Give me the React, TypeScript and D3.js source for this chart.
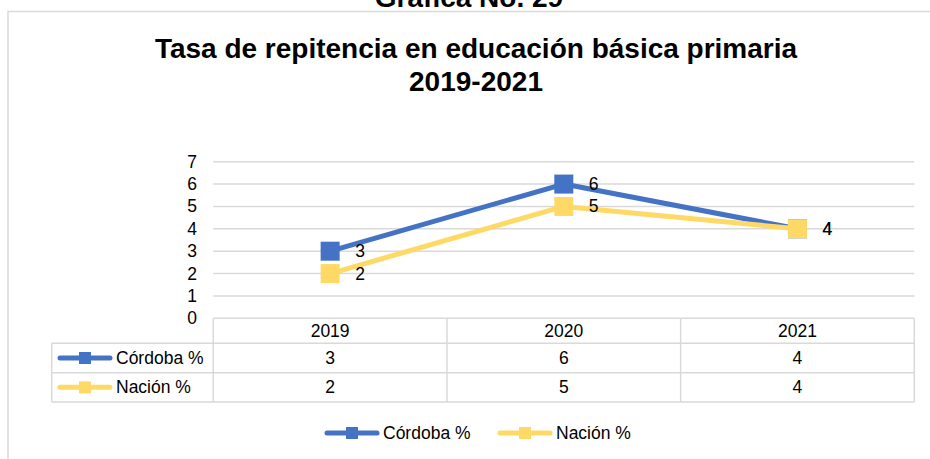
import React from "react";
import * as d3 from "d3";

const categories = ["2019", "2020", "2021"];
const cordoba = [3, 6, 4];
const nacion = [2, 5, 4];
const seriesNames = ["Córdoba %", "Nación %"];
const yTicks = [0, 1, 2, 3, 4, 5, 6, 7];

const BLUE = "#4472C4";
const GOLD = "#FFD966";
const GRID = "#D9D9D9";
const FONT = "'Liberation Sans', Arial, sans-serif";
const FS = 17.5;

export default function App() {
  const W = 930, H = 459;
  const left = 213.3, right = 914.3;
  const y0 = 318.3, y7 = 161.7;
  const x = d3.scaleBand<string>().domain(categories).range([left, right]);
  const y = d3.scaleLinear().domain([0, 7]).range([y0, y7]);
  const cx = (c: string) => (x(c) as number) + x.bandwidth() / 2;
  const series = [
    { name: seriesNames[0], values: cordoba, color: BLUE },
    { name: seriesNames[1], values: nacion, color: GOLD },
  ];
  const line = d3.line<number>().x((_, i) => cx(categories[i])).y((v) => y(v));
  const rowTops = [318.3, 343.3, 372.7, 402];
  const tableLeft = 51.7;
  const ms = 19;

  return (
    <svg width={W} height={H} style={{ position: "absolute", left: 0, top: 0, background: "#fff" }} fontFamily={FONT}>
      <rect x={0} y={0} width={W} height={H} fill="#fff" />
      <rect x={8} y={11.5} width={940} height={470} fill="none" stroke={GRID} strokeWidth={1.5} />
      <text x={469} y={6.5} textAnchor="middle" fontWeight="bold" fontSize={28}>Gráfica No. 29</text>
      <text x={476} y={58.3} textAnchor="middle" fontWeight="bold" fontSize={28}>Tasa de repitencia en educación básica primaria</text>
      <text x={476} y={91} textAnchor="middle" fontWeight="bold" fontSize={28}>2019-2021</text>

      {yTicks.slice(1).map((t) => (
        <line key={t} x1={left} x2={right} y1={y(t)} y2={y(t)} stroke={GRID} strokeWidth={1.5} />
      ))}
      {yTicks.map((t) => (
        <text key={t} x={197} y={y(t) + 6} textAnchor="end" fontSize={FS}>{t}</text>
      ))}

      <g stroke={GRID} strokeWidth={1.5} fill="none">
        <line x1={left} x2={right} y1={rowTops[0]} y2={rowTops[0]} />
        {rowTops.slice(1).map((r, i) => (
          <line key={i} x1={tableLeft} x2={right} y1={r} y2={r} />
        ))}
        <line x1={tableLeft} x2={tableLeft} y1={rowTops[1]} y2={rowTops[3]} />
        {[...categories.map((c) => x(c) as number), right].map((v, i) => (
          <line key={i} x1={v} x2={v} y1={rowTops[0]} y2={rowTops[3]} />
        ))}
      </g>
      {categories.map((c) => (
        <text key={c} x={cx(c)} y={(rowTops[0] + rowTops[1]) / 2 + 6} textAnchor="middle" fontSize={FS}>{c}</text>
      ))}
      {series.map((s, si) => {
        const mid = (rowTops[si + 1] + rowTops[si + 2]) / 2;
        return (
          <g key={s.name}>
            <line x1={60} x2={110} y1={mid} y2={mid} stroke={s.color} strokeWidth={5} strokeLinecap="round" />
            <rect x={79} y={mid - 6} width={12} height={12} fill={s.color} />
            <text x={116} y={mid + 6} fontSize={FS}>{s.name}</text>
            {s.values.map((v, i) => (
              <text key={i} x={cx(categories[i])} y={mid + 6} textAnchor="middle" fontSize={FS}>{v}</text>
            ))}
          </g>
        );
      })}

      {series.map((s) => (
        <g key={s.name}>
          <path d={line(s.values) as string} fill="none" stroke={s.color} strokeWidth={5} strokeLinejoin="round" />
          {s.values.map((v, i) => (
            <rect key={i} x={cx(categories[i]) - ms / 2} y={y(v) - ms / 2} width={ms} height={ms} fill={s.color} />
          ))}
          {s.values.map((v, i) => (
            <text key={"l" + i} x={cx(categories[i]) + 25} y={y(v) + 6} fontSize={FS}>{v}</text>
          ))}
        </g>
      ))}

      {series.map((s, i) => {
        const lx = [325, 498][i];
        const ly = 433;
        return (
          <g key={s.name}>
            <line x1={lx + 2} x2={lx + 52} y1={ly} y2={ly} stroke={s.color} strokeWidth={5} strokeLinecap="round" />
            <rect x={lx + 21} y={ly - 6} width={12} height={12} fill={s.color} />
            <text x={lx + 58} y={ly + 6} fontSize={FS}>{s.name}</text>
          </g>
        );
      })}
    </svg>
  );
}
